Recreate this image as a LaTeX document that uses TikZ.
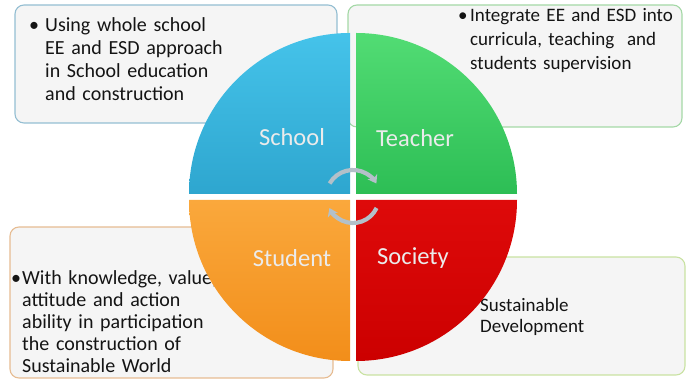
\documentclass[tikz,border=0pt]{standalone}
\usepackage{fontspec}
\setmainfont{Carlito}
\usetikzlibrary{arrows.meta}
\definecolor{schoolblue}{HTML}{2EA6CF}
\definecolor{schooltop}{HTML}{45C3EA}
\definecolor{teachgreen}{HTML}{2DBE55}
\definecolor{teachtop}{HTML}{52DC74}
\definecolor{studorange}{HTML}{F28E1A}
\definecolor{studtop}{HTML}{FAA83C}
\definecolor{socred}{HTML}{CC0000}
\definecolor{soctop}{HTML}{DE0A0A}
\definecolor{edgeblue}{HTML}{94BED2}
\definecolor{edgegreen}{HTML}{A4D8A6}
\definecolor{edgetan}{HTML}{E6BC92}
\definecolor{edgelime}{HTML}{C9E2A2}
\definecolor{silver}{HTML}{B3C0C9}

\begin{document}
\begin{tikzpicture}[x=1pt, y=1pt,
    box/.style={draw, rounded corners=9pt, line width=1.1pt, fill=black!4, inner sep=0pt},
    note/.style={anchor=base west, align=left, text width=300pt, inner sep=0pt, text=black!92},
    lbl/.style={font=\fontsize{24.5}{28}\selectfont, text=white!92!black},
    turn/.style={-{Stealth[length=8pt, width=11pt]}, line width=4.2pt, draw=silver}
]
\useasboundingbox (0,0) rectangle (691,379);

% boxes behind the disc
\node[box, draw=edgeblue, minimum width=322pt, minimum height=118pt] (tlbox) at (176,315) {};
\node[box, draw=edgegreen, minimum width=334pt, minimum height=122pt] (trbox) at (515,313) {};
\node[box, draw=edgetan, minimum width=323pt, minimum height=151pt] (blbox) at (171.5,76.5) {};
\node[box, draw=edgelime, minimum width=327pt, minimum height=118pt] (brbox) at (521.5,63) {};

\node[note, font=\fontsize{20}{23}\selectfont] (tltext) at (29,347)
  {\makebox[16pt][l]{\textbullet}Using whole school\\\hspace*{16pt}EE and ESD approach\\\hspace*{16pt}in School education\\\hspace*{16pt}and construction};
\node[note, font=\fontsize{19}{24}\selectfont] (trtext) at (458,357)
  {\makebox[12pt][l]{\textbullet}Integrate EE and ESD into\\\hspace*{12pt}curricula, teaching~ and\\\hspace*{12pt}students supervision};
\node[note, font=\fontsize{20}{22}\selectfont] (bltext) at (11,94)
  {\makebox[11pt][l]{\textbullet}With knowledge, value,\\\hspace*{11pt}attitude and action\\\hspace*{11pt}ability in participation\\\hspace*{11pt}the construction of\\\hspace*{11pt}Sustainable World};
\node[note, font=\fontsize{19}{21}\selectfont] (brtext) at (480,67)
  {Sustainable\\Development};

% the four quarters
\coordinate (c) at (353,182);
\path[top color=schooltop, bottom color=schoolblue] (350,185) -- ++(-161,0) arc[start angle=180, end angle=90, radius=161] -- cycle;
\path[top color=teachtop, bottom color=teachgreen] (356,185) -- ++(0,161) arc[start angle=90, end angle=0, radius=161] -- cycle;
\path[top color=studtop, bottom color=studorange] (350,179) -- ++(0,-161) arc[start angle=270, end angle=180, radius=161] -- cycle;
\path[top color=soctop, bottom color=socred] (356,179) -- ++(161,0) arc[start angle=0, end angle=-90, radius=161] -- cycle;

\node[lbl] (school) at (292,242) {School};
\node[lbl] (teacher) at (415,241) {Teacher};
\node[lbl] (student) at (292,121) {Student};
\node[lbl] (society) at (413,121) {Society};

\draw[turn] ([shift={(150:27)}]c) arc[start angle=150, end angle=30, radius=27];
\draw[turn] ([shift={(-25:26)}]c) arc[start angle=-25, end angle=-155, radius=26];
\end{tikzpicture}
\end{document}
